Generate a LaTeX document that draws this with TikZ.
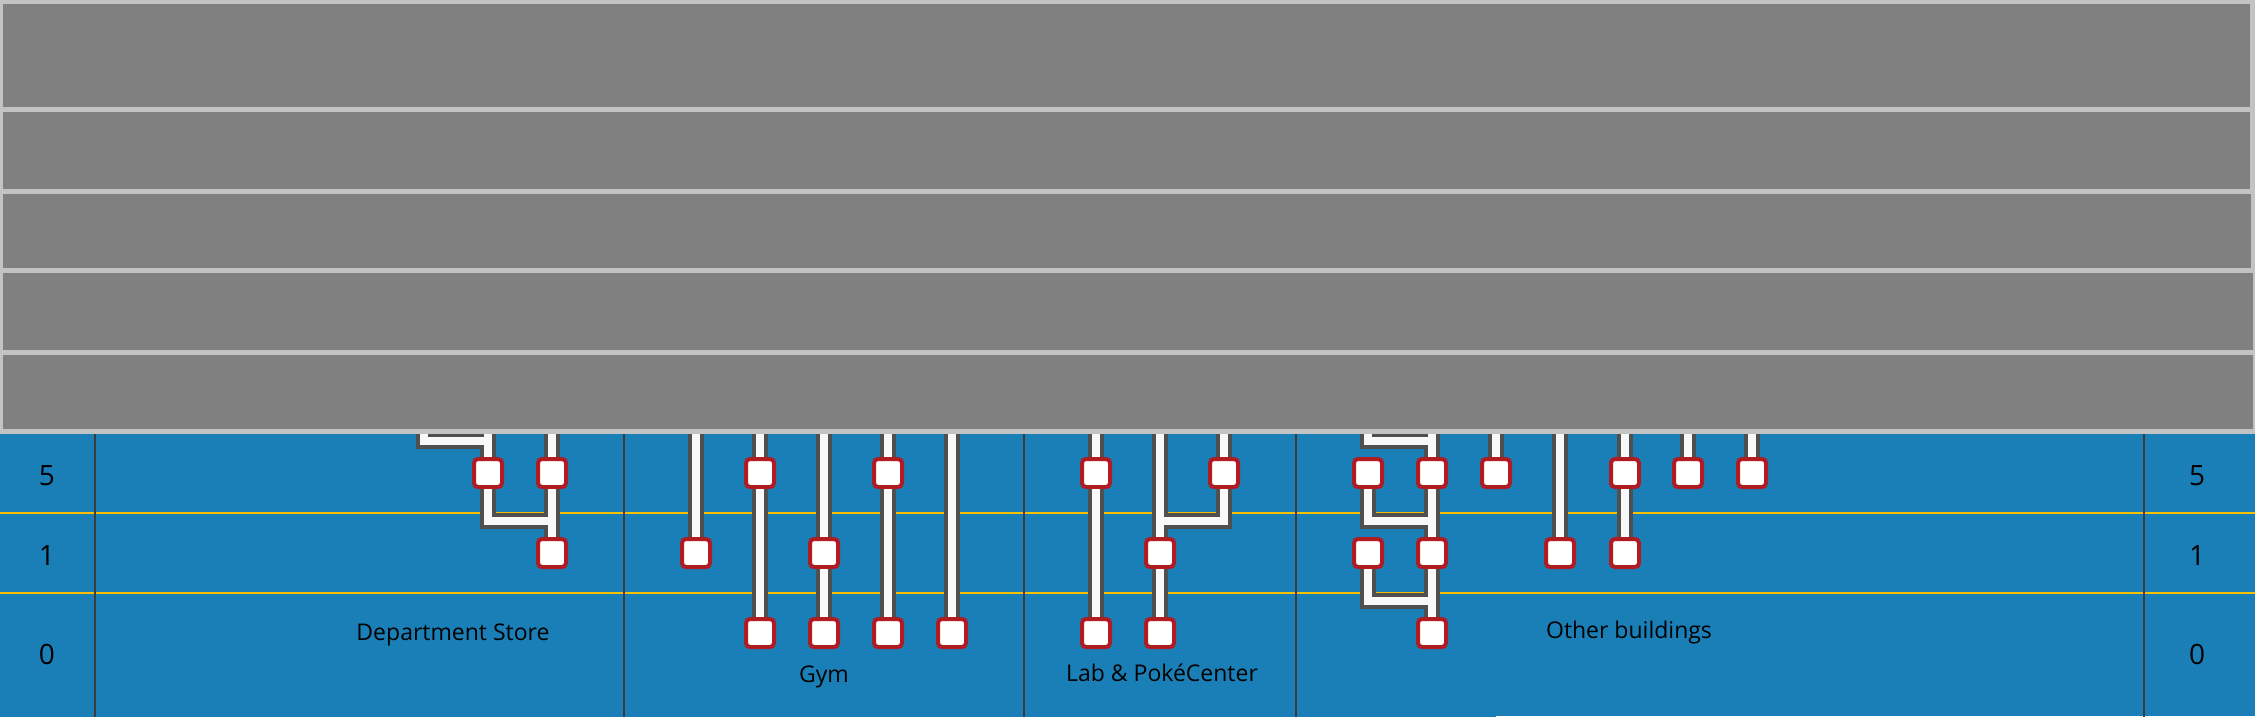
\documentclass[tikz,border=0pt]{standalone}
\usepackage{fontspec}
\setmainfont{Open Sans}
\usetikzlibrary{calc}
\definecolor{sea}{RGB}{26,127,183}
\definecolor{cover}{RGB}{128,128,128}
\definecolor{coveredge}{RGB}{195,195,195}
\definecolor{gold}{RGB}{250,190,0}
\definecolor{colline}{RGB}{60,60,60}
\definecolor{wiredark}{RGB}{80,80,80}
\definecolor{wirewhite}{RGB}{248,250,250}
\definecolor{padred}{RGB}{176,28,34}

\begin{document}
\begin{tikzpicture}[
  x=0.5pt, y=-0.5pt,
  pad/.style={draw=padred, fill=white, line width=2pt, rounded corners=2pt, minimum size=14pt, inner sep=0pt},
  num/.style={font=\fontsize{14}{16}\selectfont},
  lbl/.style={anchor=base, font=\fontsize{11.5}{13}\selectfont},
  band/.style={fill=cover}
]
\useasboundingbox (0,0) rectangle (2255,717);
% floor, rows and columns
\fill[sea] (0,434) rectangle (2255,717);
\fill[white] (1496,716) rectangle (2255,717);
\foreach \y in {513,593} \fill[gold] (0,\y-1) rectangle (2255,\y+1);
\foreach \x in {95,624,1024,1296,2144} \fill[colline] (\x-1,434) rectangle (\x+1,717);

% row numbers
\node[num] (l5) at (47,476) {5}; \node[num] (r5) at (2197,476) {5};
\node[num] (l1) at (47,556) {1}; \node[num] (r1) at (2197,556) {1};
\node[num] (l0) at (47,654) {0}; \node[num] (r0) at (2197,654) {0};

% section names
\node[lbl] (dept) at (453,640) {Department Store};
\node[lbl] (gym) at (824,682) {Gym};
\node[lbl] (lab) at (1162,681) {Lab \& PokéCenter};
\node[lbl] (other) at (1629,638) {Other buildings};

% pads
\node[pad] (dA5) at (488,473) {}; \node[pad] (dB5) at (552,473) {}; \node[pad] (dB1) at (552,553) {};
\node[pad] (gA1) at (696,553) {};
\node[pad] (gB5) at (760,473) {}; \node[pad] (gB0) at (760,633) {};
\node[pad] (gC1) at (824,553) {}; \node[pad] (gC0) at (824,633) {};
\node[pad] (gD5) at (888,473) {}; \node[pad] (gD0) at (888,633) {};
\node[pad] (gE0) at (952,633) {};
\node[pad] (lA5) at (1096,473) {}; \node[pad] (lA0) at (1096,633) {};
\node[pad] (lB1) at (1160,553) {}; \node[pad] (lB0) at (1160,633) {};
\node[pad] (lC5) at (1224,473) {};
\node[pad] (oA5) at (1368,473) {}; \node[pad] (oA1) at (1368,553) {};
\node[pad] (oB5) at (1432,473) {}; \node[pad] (oB1) at (1432,553) {}; \node[pad] (oB0) at (1432,633) {};
\node[pad] (oC5) at (1496,473) {};
\node[pad] (oD1) at (1560,553) {};
\node[pad] (oE5) at (1625,473) {}; \node[pad] (oE1) at (1625,553) {};
\node[pad] (oF5) at (1688,473) {};
\node[pad] (oG5) at (1752,473) {};

% where the wires come in from above
\foreach \n/\x in {dX/424,dA/488,dB/552,gA/696,gB/760,gC/824,gD/888,gE/952,lA/1096,lB/1160,lC/1224,oX/1368,oB/1432,oC/1496,oD/1560,oE/1625,oF/1688,oG/1752}
  \coordinate (\n-top) at (\x,426);

% wires: shadow pass, then white pass
\foreach \lw/\col in {8pt/wiredark,4pt/wirewhite}{
  \draw[line width=\lw, draw=\col] (dX-top) |- ($(dA5)+(0,-32)$);
  \draw[line width=\lw, draw=\col] (dA-top) -- (dA5); \draw[line width=\lw, draw=\col] (dB-top) -- (dB5) -- (dB1);
  \draw[line width=\lw, draw=\col] (dA5) |- ($(dB1)+(0,-32)$);
  \draw[line width=\lw, draw=\col] (gA-top) -- (gA1);
  \draw[line width=\lw, draw=\col] (gB-top) -- (gB5) -- (gB0);
  \draw[line width=\lw, draw=\col] (gC-top) -- (gC1) -- (gC0);
  \draw[line width=\lw, draw=\col] (gD-top) -- (gD5) -- (gD0);
  \draw[line width=\lw, draw=\col] (gE-top) -- (gE0);
  \draw[line width=\lw, draw=\col] (lA-top) -- (lA5) -- (lA0);
  \draw[line width=\lw, draw=\col] (lB-top) -- (lB1) -- (lB0);
  \draw[line width=\lw, draw=\col] (lC-top) -- (lC5) |- ($(lB1)+(0,-32)$);
  \draw[line width=\lw, draw=\col] (oX-top) |- ($(oB5)+(0,-32)$);
  \draw[line width=\lw, draw=\col] (oB-top) -- (oB5) -- (oB1) -- (oB0);
  \draw[line width=\lw, draw=\col] (oA5) |- ($(oB1)+(0,-32)$);
  \draw[line width=\lw, draw=\col] (oA1) |- ($(oB0)+(0,-32)$);
  \draw[line width=\lw, draw=\col] (oC-top) -- (oC5);
  \draw[line width=\lw, draw=\col] (oD-top) -- (oD1);
  \draw[line width=\lw, draw=\col] (oE-top) -- (oE5) -- (oE1);
  \draw[line width=\lw, draw=\col] (oF-top) -- (oF5);
  \draw[line width=\lw, draw=\col] (oG-top) -- (oG5);
}

% grey cover over the upper floors
\fill[coveredge] (0,0) rectangle (2255,434);
\fill[band] (3,4) rectangle (2250,107);
\fill[band] (3,112) rectangle (2250,189);
\fill[band] (3,194) rectangle (2251,268);
\fill[band] (3,273) rectangle (2253,350);
\fill[band] (3,355) rectangle (2253,429);
\end{tikzpicture}
\end{document}
